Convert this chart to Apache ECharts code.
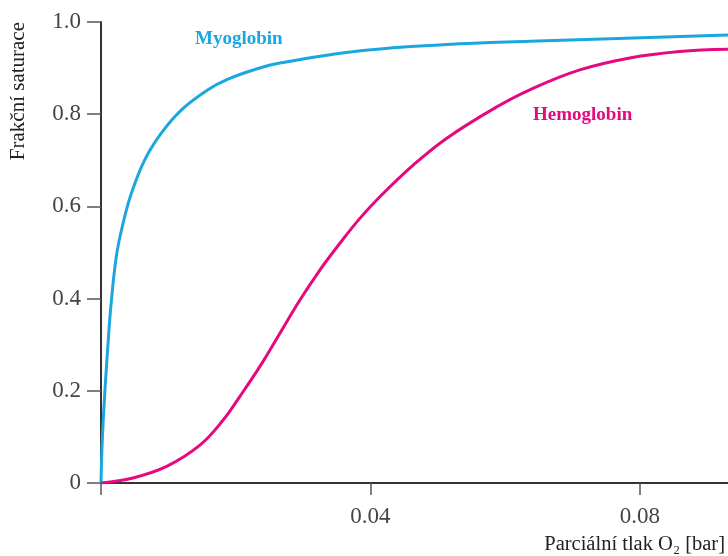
<!DOCTYPE html>
<html>
<head>
<meta charset="utf-8">
<script src="https://cdn.jsdelivr.net/npm/echarts@6/dist/echarts.min.js"></script>
<style>html,body{margin:0;padding:0;background:#fff}#c{width:728px;height:556px}</style>
</head>
<body>
<div id="c"></div>
<script>
// Partial pressure of O2 [bar] and fractional saturation
const myoglobinP = [0, 0.00019, 0.00059, 0.00108, 0.00144, 0.00227, 0.00327, 0.00450, 0.00649, 0.00895, 0.01192, 0.01588, 0.01885, 0.02286, 0.02657, 0.03889, 0.05135, 0.06367, 0.0931];
const myoglobinS = [0, 0.093, 0.202, 0.310, 0.379, 0.491, 0.563, 0.628, 0.701, 0.759, 0.809, 0.853, 0.876, 0.897, 0.911, 0.938, 0.951, 0.958, 0.972];

const hemoglobinP = [0, 0.00475, 0.00975, 0.01469, 0.01811, 0.02063, 0.02360, 0.02657, 0.02954, 0.03250, 0.03547, 0.03844, 0.04141, 0.04640, 0.05135, 0.05878, 0.06367, 0.07109, 0.07852, 0.08594, 0.0931];
const hemoglobinS = [0, 0.011, 0.036, 0.082, 0.136, 0.188, 0.253, 0.325, 0.397, 0.462, 0.520, 0.574, 0.621, 0.690, 0.748, 0.816, 0.853, 0.896, 0.922, 0.936, 0.941];

const xTicks = [0, 0.04, 0.08];
const xTickLabels = ['', '0.04', '0.08'];
const yTickLabels = ['0', '0.2', '0.4', '0.6', '0.8', '1.0'];

const seriesNames = ['Myoglobin', 'Hemoglobin'];
const blue = '#1aa7df';
const pink = '#e5097f';
const serif = '"Liberation Serif", "Times New Roman", serif';

const zip = (a, b) => a.map((v, i) => [v, b[i]]);

const chart = echarts.init(document.getElementById('c'), null, {renderer: 'canvas'});
chart.setOption({
  animation: false,
  backgroundColor: '#fff',
  grid: {left: 101, right: 0, top: 22, bottom: 73},
  xAxis: {
    type: 'value',
    min: 0,
    max: 0.0931,
    name: 'Parciální tlak O₂ [bar]',
    nameLocation: 'end',
    nameGap: -3,
    nameTextStyle: {fontFamily: serif, fontSize: 20.5, color: '#222', align: 'right', verticalAlign: 'top', padding: [51, 0, 0, 0]},
    axisLine: {lineStyle: {color: '#333', width: 2}},
    axisTick: {show: true, length: 12, inside: false, customValues: xTicks, lineStyle: {color: '#555', width: 1.5}},
    axisLabel: {
      customValues: xTicks,
      margin: 22,
      fontFamily: serif, fontSize: 23, color: '#444',
      formatter: v => xTickLabels[xTicks.findIndex(t => Math.abs(t - v) < 1e-9)] ?? ''
    },
    splitLine: {show: false}
  },
  yAxis: {
    type: 'value',
    min: 0,
    max: 1,
    interval: 0.2,
    name: 'Frakční saturace',
    nameLocation: 'end',
    nameGap: 0,
    nameRotate: 90,
    nameTextStyle: {fontFamily: serif, fontSize: 21, color: '#222', align: 'right', verticalAlign: 'bottom', padding: [0, 0, 72, 0]},
    axisLine: {show: true, lineStyle: {color: '#333', width: 2}},
    axisTick: {show: true, length: 14, lineStyle: {color: '#555', width: 1.5}},
    axisLabel: {
      margin: 20,
      fontFamily: serif, fontSize: 23, color: '#444',
      formatter: v => yTickLabels[Math.round(v / 0.2)]
    },
    splitLine: {show: false}
  },
  series: [
    {
      name: seriesNames[0], type: 'line', data: zip(myoglobinP, myoglobinS),
      smooth: 0.4, showSymbol: false,
      lineStyle: {color: blue, width: 3}, z: 3
    },
    {
      name: seriesNames[1], type: 'line', data: zip(hemoglobinP, hemoglobinS),
      smooth: 0.4, showSymbol: false,
      lineStyle: {color: pink, width: 3}, z: 3
    }
  ],
  graphic: [
    {type: 'text', left: 195, top: 30, style: {text: seriesNames[0], fill: blue, font: 'bold 19px ' + serif}},
    {type: 'text', left: 533, top: 106, style: {text: seriesNames[1], fill: pink, font: 'bold 19px ' + serif}}
  ]
});
</script>
</body>
</html>
